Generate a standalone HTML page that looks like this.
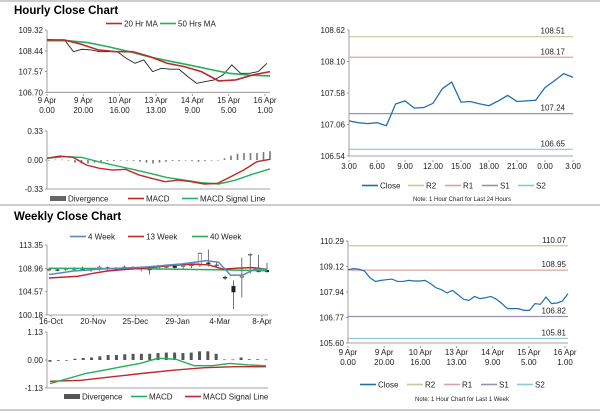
<!DOCTYPE html>
<html><head><meta charset="utf-8"><style>
body{margin:0;background:#fff}
svg{display:block;font-family:"Liberation Sans",sans-serif}
</style></head><body>
<svg id="c" width="600" height="413" viewBox="0 0 600 413" xmlns="http://www.w3.org/2000/svg">
<line x1="0" y1="1" x2="600" y2="1" stroke="#999"/>
<line x1="0" y1="205" x2="600" y2="205" stroke="#999"/>
<line x1="0" y1="410" x2="600" y2="410" stroke="#999"/>
<text x="14" y="14" font-size="11.5" font-weight="bold">Hourly Close Chart</text>
<text x="14" y="220" font-size="11.5" font-weight="bold">Weekly Close Chart</text>
</svg>
<script>
// ---- data ----
const hCloseVals=[108.93,108.90,108.90,108.41,108.51,108.48,108.41,108.41,108.41,108.13,107.92,108.06,107.57,107.71,107.67,107.67,107.36,107.08,107.15,107.22,107.43,107.85,107.50,107.50,107.57,107.92];
const hMA20=[108.90,108.90,108.72,108.48,108.41,108.41,108.20,107.92,107.78,107.57,107.18,107.22,107.43,107.57];
const hMA50=[108.87,108.87,108.79,108.62,108.42,108.20,108.02,107.85,107.67,107.50,107.42,107.39];
const hTicks=["109.32","108.44","107.57","106.70"];
const hCats=["9 Apr|0.00","9 Apr|20.00","10 Apr|16.00","13 Apr|13.00","14 Apr|9.00","15 Apr|5.00","16 Apr|1.00"];
const hMacd=[0.02,0.045,0.03,-0.057,-0.095,-0.114,-0.106,-0.17,-0.21,-0.247,-0.228,-0.247,-0.273,-0.266,-0.19,-0.114,-0.019,0.008];
const hSignal=[0.02,0.038,0.03,-0.019,-0.064,-0.106,-0.152,-0.2,-0.228,-0.258,-0.273,-0.228,-0.16,-0.102];
const hDiv=[0,0.005,0.005,0,-0.03,-0.04,-0.04,-0.03,-0.02,-0.01,-0.01,0,0,-0.01,-0.02,-0.03,-0.04,-0.03,-0.02,-0.01,-0.01,0,-0.01,-0.02,-0.01,0,0,0.02,0.05,0.07,0.08,0.08,0.08,0.09,0.1];
const hmTicks=["0.33","0.00","-0.33"];
const dCloseVals=[107.12,107.09,107.075,107.09,107.04,107.40,107.45,107.33,107.34,107.41,107.65,107.76,107.43,107.44,107.40,107.37,107.45,107.54,107.44,107.45,107.46,107.67,107.78,107.90,107.84];
const dLevels=[108.51,108.17,107.24,106.65];
const dTicks=["108.62","108.10","107.58","107.06","106.54"];
const dCats=["3.00","6.00","9.00","12.00","15.00","18.00","21.00","0.00","3.00"];
const wOpen=[108.7,108.7,108.8,108.9,108.9,108.8,108.9,109.1,108.8,108.8,109.1,109.0,108.8,108.9,109.3,109.4,109.3,109.5,109.6,110.0,109.5,107.3,105.6,107.3,111.6,108.6,108.6];
const wClose=[108.8,108.6,108.9,108.9,108.8,108.6,109.2,108.9,108.9,109.2,109.0,108.8,108.7,109.3,109.3,109.1,109.5,109.6,111.8,109.8,109.6,107.1,104.5,107.5,111.6,108.3,108.3];
const wHigh=[109.0,108.9,109.1,109.2,109.3,109.0,109.5,109.3,109.2,109.5,109.4,109.3,109.0,109.6,109.7,109.6,109.8,109.8,112.0,112.5,110.3,107.6,106.7,111.0,111.8,111.5,110.0];
const wLow=[108.4,108.4,108.5,108.5,108.5,108.3,108.5,108.5,108.5,108.6,108.7,108.4,107.8,108.7,109.0,108.8,108.8,109.0,109.2,109.3,109.0,106.8,101.3,103.5,108.0,108.2,108.2];
const w4=[107.8,108.1,108.45,108.6,108.8,108.9,109.0,109.1,109.2,109.4,109.6,109.8,110.1,110.4,110.1,107.66,107.7,108.8,108.8];
const w13=[107.14,107.3,107.47,108.0,108.45,108.7,108.9,109.1,109.4,109.6,109.75,109.6,108.8,109.0,109.1,108.8];
const w40=[108.97,108.95,108.92,108.9,108.85,108.8,108.75,108.7,108.6,108.5];
const wTicks=["113.35","108.96","104.57","100.18"];
const wCats=["16-Oct","20-Nov","25-Dec","29-Jan","4-Mar","8-Apr"];
const wMacd=[-0.95,-0.75,-0.54,-0.41,-0.27,-0.14,0.07,0.03,-0.23,-0.23,-0.14,-0.2,-0.23];
const wSignal=[-0.86,-0.82,-0.68,-0.54,-0.41,-0.31,-0.27,-0.27];
const wDiv=[-0.07,-0.03,0,0.05,0.08,0.1,0.15,0.2,0.2,0.23,0.25,0.25,0.25,0.28,0.3,0.3,0.28,0.3,0.35,0.35,0.25,0.02,0.02,0.1,0.03,0.03,0.02];
const wmTicks=["1.13","0.00","-1.13"];
const kCloseVals=[108.97,109.02,108.99,108.91,108.60,108.43,108.48,108.51,108.54,108.43,108.43,108.48,108.45,108.45,108.48,108.33,108.14,108.05,107.90,108.02,107.82,107.61,107.56,107.74,107.64,107.68,107.74,107.61,107.41,107.18,107.18,107.18,107.10,107.10,107.41,107.38,107.71,107.41,107.44,107.53,107.87];
const kLevels=[110.07,108.95,106.82,105.81];
const kTicks=["110.29","109.12","107.94","106.77","105.60"];
const kCats=["9 Apr|0.00","9 Apr|20.00","10 Apr|16.00","13 Apr|13.00","14 Apr|9.00","15 Apr|5.00","16 Apr|1.00"];
const levelColors=["#c8c89a","#e0a0a0","#9a90b0","#8cc8d8"];
// ---- drawing ----
const svg=document.getElementById('c');
const NS='http://www.w3.org/2000/svg';
function mk(tag,attrs,parent){const e=document.createElementNS(NS,tag);for(const k in attrs)e.setAttribute(k,attrs[k]);(parent||svg).appendChild(e);return e;}
function lin(d0,d1,r0,r1){return v=>r0+(v-d0)/(d1-d0)*(r1-r0);}
function group(name){const g=mk('g',{});return g;}
function axes(g,x0,x1,y0,y1,ticks,tmax,tmin,fs){
  mk('line',{x1:x0,y1:y0,x2:x0,y2:y1,stroke:'#888','stroke-width':0.8},g);
  mk('line',{x1:x0,y1:y1,x2:x1,y2:y1,stroke:'#888','stroke-width':0.8},g);
  const y=lin(tmax,tmin,y0,y1);
  ticks.forEach(t=>{const yy=y(parseFloat(t));
    const tx=mk('text',{x:x0-4,y:yy+3,'font-size':fs||8,'text-anchor':'end',fill:'#222'},g);tx.textContent=t;
    
    
    mk('line',{x1:x0-2,y1:yy,x2:x0,y2:yy,stroke:'#888','stroke-width':0.8},g);});
}
function xlabels(g,cats,x0,x1,yb){
  const x=lin(0,cats.length-1,x0,x1);
  cats.forEach((c,i)=>{const parts=c.split('|');parts.forEach((p,j)=>{
    const t=mk('text',{x:x(i),y:yb+j*10,'font-size':8,'text-anchor':'middle',fill:'#222'},g);t.textContent=p;
    
    });
    mk('line',{x1:x(i),y1:yb-9,x2:x(i),y2:yb-7,stroke:'#888','stroke-width':0.8},g);});
}
function poly(g,vals,x0,x1,y,color,w,name,dash){
  const x=lin(0,vals.length-1,x0,x1);
  const p=mk('polyline',{points:vals.map((v,i)=>x(i)+','+y(v)).join(' '),fill:'none',stroke:color,'stroke-width':w},g);
  if(dash)p.setAttribute('stroke-dasharray',dash);
  
  
}
function legend(g,items,y){
  items.forEach(it=>{
    if(it.box){const r=mk('rect',{x:it.x,y:y-4,width:16,height:5,fill:it.c},g);}
    else mk('line',{x1:it.x,y1:y-1.5,x2:it.x+16,y2:y-1.5,stroke:it.c,'stroke-width':it.w||1.6},g);
    const t=mk('text',{x:it.x+18,y:y+1.5,'font-size':8,fill:'#222'},g);t.textContent=it.t;
    
    
  });
}
function bars(g,vals,x0,x1,y,color,bw,name){
  const x=lin(0,vals.length-1,x0,x1);
  vals.forEach((v,i)=>{const a=y(0),b=y(v);
    const r=mk('rect',{x:x(i)-bw/2,y:Math.min(a,b),width:bw,height:Math.max(0.6,Math.abs(a-b)),fill:color},g);
    
    });
}
// Hourly candle panel
(function(){const g=group('hourly-price-chart');
  const X0=47,X1=270,y=lin(109.32,106.70,30,92.3);
  axes(g,X0,X1,30,92.3,hTicks,109.32,106.70);
  xlabels(g,hCats,X0,265,103);
  poly(g,hCloseVals,X0,267,y,'#222',0.9,'hourly-close-line');
  poly(g,hMA50,X0,X1,y,'#22b05a',1.6,'ma50-line');
  poly(g,hMA20,X0,X1,y,'#c0282d',1.6,'ma20-line');
  legend(g,[{x:106,t:'20 Hr MA',c:'#c0282d'},{x:160,t:'50 Hrs MA',c:'#22b05a'}],25);
})();
(function(){const g=group('hourly-macd-chart');
  const X0=47,X1=270,y=lin(0.33,-0.33,131,189);
  axes(g,X0,X1,131,189,hmTicks,0.33,-0.33);
  bars(g,hDiv,X0+2,X1,y,'#777',1.6,'hourly-divergence-bar');
  poly(g,hSignal,X0,X1,y,'#22b05a',1.4,'hourly-signal-line');
  poly(g,hMacd,X0,X1,y,'#c0282d',1.4,'hourly-macd-line');
  legend(g,[{x:50,t:'Divergence',c:'#666',box:1},{x:128,t:'MACD',c:'#c0282d'},{x:182,t:'MACD Signal Line',c:'#22b05a'}],200);
})();
// Day chart
(function(){const g=group('day-close-chart');
  const X0=349,X1=573,y=lin(108.62,106.54,30,156);
  axes(g,X0,X1,30,156,dTicks,108.62,106.54);
  xlabels(g,dCats,X0,X1,169);
  dLevels.forEach((v,i)=>{mk('line',{x1:X0,y1:y(v),x2:X1,y2:y(v),stroke:levelColors[i],'stroke-width':1.2},g);
    const t=mk('text',{x:565,y:y(v)-3,'font-size':8,'text-anchor':'end',fill:'#222'},g);t.textContent=v.toFixed(2);
    
    });
  poly(g,dCloseVals,X0,X1,y,'#1f6fb0',1.3,'day-close-line');
  legend(g,[{x:362,t:'Close',c:'#1f6fb0'},{x:408,t:'R2',c:levelColors[0]},{x:445,t:'R1',c:levelColors[1]},{x:482,t:'S1',c:levelColors[2]},{x:518,t:'S2',c:levelColors[3]}],187);
  const n=mk('text',{x:462,y:201,'font-size':6,'text-anchor':'middle',fill:'#222'},g);n.textContent='Note: 1 Hour Chart for Last 24 Hours';
  
  
})();
// Weekly candle panel
(function(){const g=group('weekly-price-chart');
  const X0=47,X1=268,y=lin(113.35,100.18,245,315);
  axes(g,X0,X1,245,315,wTicks,113.35,100.18);
  xlabels(g,wCats,51,262,324);
  const x=lin(0,wOpen.length-1,49,267);
  wOpen.forEach((o,i)=>{const c=wClose[i];
    mk('line',{x1:x(i),y1:y(wHigh[i]),x2:x(i),y2:y(wLow[i]),stroke:'#333','stroke-width':0.7},g);
    const r=mk('rect',{x:x(i)-1.8,y:y(Math.max(o,c)),width:3.6,height:Math.max(0.8,Math.abs(y(o)-y(c))),fill:c<o?'#222':'#fff',stroke:'#333','stroke-width':0.5},g);
    
    });
  poly(g,w40,49,267,y,'#22b05a',1.5,'week40-line');
  poly(g,w13,49,267,y,'#c0282d',1.5,'week13-line');
  poly(g,w4,49,267,y,'#5b86c5',1.5,'week4-line');
  legend(g,[{x:70,t:'4 Week',c:'#5b86c5'},{x:128,t:'13 Week',c:'#c0282d'},{x:192,t:'40 Week',c:'#22b05a'}],238);
})();
(function(){const g=group('weekly-macd-chart');
  const X0=47,X1=268,y=lin(1.13,-1.13,332,388);
  axes(g,X0,X1,332,388,wmTicks,1.13,-1.13);
  bars(g,wDiv,50,266,y,'#555',3,'weekly-divergence-bar');
  poly(g,wSignal,50,266,y,'#c0282d',1.4,'weekly-signal-line');
  poly(g,wMacd,50,266,y,'#22b05a',1.4,'weekly-macd-line');
  legend(g,[{x:64,t:'Divergence',c:'#555',box:1},{x:131,t:'MACD',c:'#22b05a'},{x:185,t:'MACD Signal Line',c:'#c0282d'}],398);
})();
// Week chart
(function(){const g=group('week-close-chart');
  const X0=348,X1=568,y=lin(110.29,105.60,241,343);
  axes(g,X0,X1,241,343,kTicks,110.29,105.60);
  xlabels(g,kCats,X0,565,355);
  kLevels.forEach((v,i)=>{mk('line',{x1:X0,y1:y(v),x2:X1,y2:y(v),stroke:levelColors[i],'stroke-width':1.2},g);
    const t=mk('text',{x:566,y:y(v)-3,'font-size':8,'text-anchor':'end',fill:'#222'},g);t.textContent=v.toFixed(2);
    
    });
  poly(g,kCloseVals,X0,X1,y,'#1f6fb0',1.2,'week-close-line');
  legend(g,[{x:360,t:'Close',c:'#1f6fb0'},{x:407,t:'R2',c:levelColors[0]},{x:444,t:'R1',c:levelColors[1]},{x:481,t:'S1',c:levelColors[2]},{x:517,t:'S2',c:levelColors[3]}],386);
  const n=mk('text',{x:462,y:401,'font-size':6,'text-anchor':'middle',fill:'#222'},g);n.textContent='Note: 1 Hour Chart for Last 1 Week';
  
  
})();
</script>
</body></html>
